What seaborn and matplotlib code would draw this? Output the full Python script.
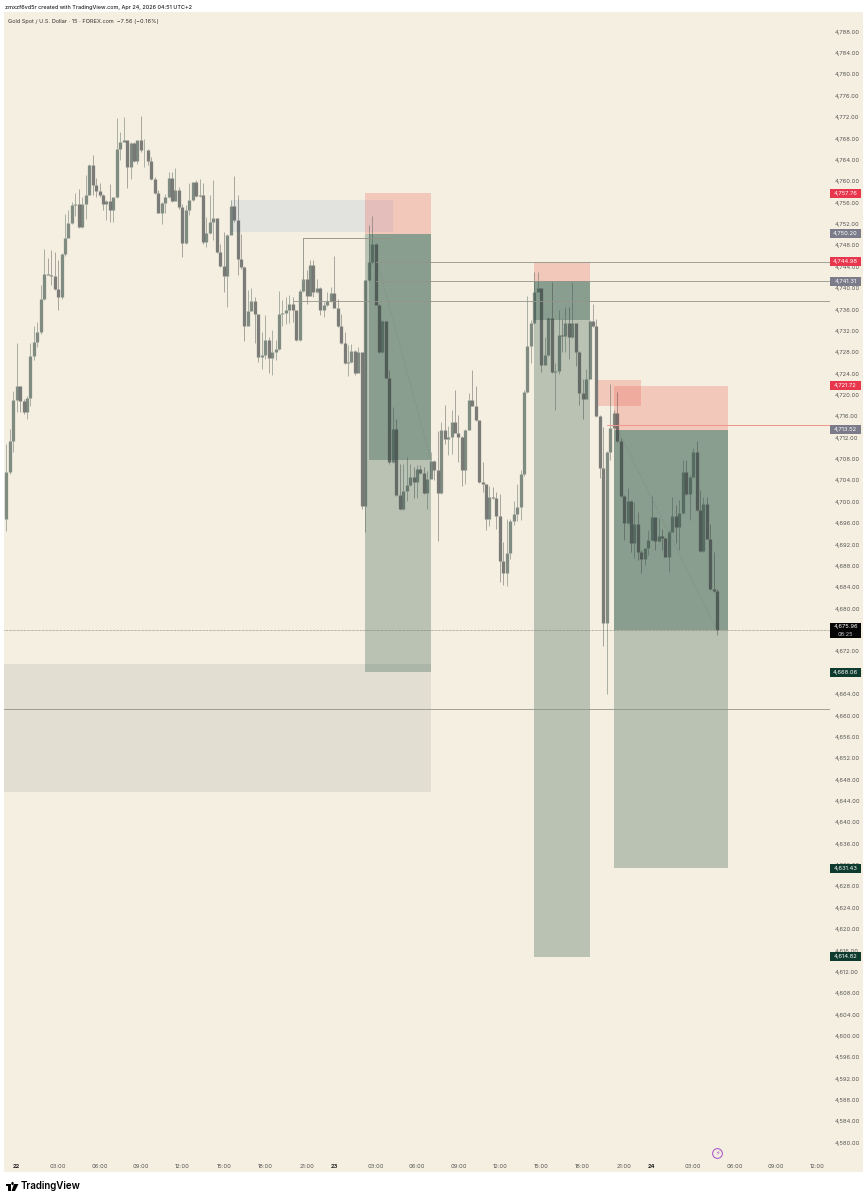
import numpy as np
import pandas as pd
import matplotlib
matplotlib.use("Agg")
import matplotlib.pyplot as plt
from matplotlib.patches import Rectangle, Circle, Polygon
import seaborn as sns

opens = [4696.8,4705.5,4711.3,4719.1,4721.7,4718.9,4716.9,4719.4,4727.3,4729.9,4731.8,4738.0,4742.7,4742.5,4742.2,4739.8,4738.3,4746.3,4749.3,4752.2,
4755.6,4755.7,4751.5,4755.7,4757.5,4763.1,4759.3,4758.2,4757.4,4755.8,4756.4,4754.6,4757.0,4766.1,4767.3,4767.7,4762.7,4767.1,4763.8,4767.7,
4765.8,4765.9,4763.8,4760.5,4757.9,4754.1,4756.0,4757.0,4760.6,4756.4,4758.3,4755.1,4748.5,4754.6,4756.5,4759.8,4757.3,4757.4,4748.6,4750.3,
4752.3,4753.1,4746.8,4744.1,4742.2,4750.0,4755.3,4752.7,4745.5,4744.0,4733.0,4735.8,4737.5,4735.1,4727.1,4727.5,4730.2,4727.0,4728.1,4728.6,
4735.2,4735.3,4736.0,4737.1,4736.0,4730.2,4739.4,4741.7,4738.5,4744.4,4739.3,4740.1,4736.0,4736.8,4737.5,4739.1,4736.3,4732.9,4729.7,4725.9,
4726.2,4728.2,4724.2,4728.0,4699.3,4741.5,4744.8,4748.2,4736.9,4728.0,4733.8,4723.2,4707.4,4713.7,4701.2,4698.7,4702.0,4703.2,4704.6,4703.7,
4706.1,4705.4,4701.6,4704.3,4707.7,4705.9,4701.6,4713.4,4711.8,4712.1,4715.0,4712.9,4712.2,4706.0,4713.5,4719.1,4718.0,4715.3,4703.7,4703.3,
4696.8,4700.9,4700.8,4697.4,4689.0,4686.6,4690.5,4696.5,4697.8,4699.1,4705.3,4720.6,4729.1,4733.4,4739.3,4740.0,4725.7,4727.4,4734.5,4724.3,
4724.4,4731.2,4731.1,4733.4,4730.8,4733.4,4728.0,4720.4,4719.3,4723.0,4733.9,4732.9,4716.0,4706.4,4677.4,4709.3,4713.8,4716.7,4711.4,4701.1,
4696.1,4700.1,4692.3,4695.9,4690.6,4689.3,4691.3,4692.8,4697.1,4692.7,4693.6,4693.3,4689.7,4694.4,4697.4,4695.3,4698.0,4705.5,4701.4,4704.7,
4709.4,4698.4,4690.8,4699.5,4693.1,4683.6,4683.3]
highs = [4710.8,4713.6,4720.8,4729.7,4721.7,4719.3,4719.9,4729.7,4733.0,4733.6,4740.5,4747.3,4745.7,4747.1,4746.8,4745.2,4746.5,4753.8,4754.6,4756.1,
4757.8,4758.6,4757.1,4761.1,4763.2,4764.9,4760.7,4759.6,4757.7,4756.5,4759.5,4757.1,4771.8,4769.3,4772.1,4767.7,4767.3,4767.3,4767.7,4772.3,
4768.0,4766.1,4764.6,4760.8,4758.3,4756.1,4757.7,4761.8,4761.8,4762.4,4759.0,4755.8,4755.5,4759.6,4759.9,4760.2,4760.5,4759.6,4753.3,4757.4,
4760.2,4753.2,4748.3,4750.5,4750.2,4756.5,4761.0,4757.4,4750.2,4744.1,4739.6,4740.0,4738.3,4735.2,4731.8,4734.9,4730.8,4732.1,4730.2,4739.5,
4737.7,4738.3,4738.7,4738.3,4736.0,4739.9,4742.4,4743.4,4745.2,4745.2,4741.8,4740.2,4737.4,4739.3,4740.3,4746.0,4738.0,4735.2,4731.8,4729.3,
4729.6,4728.4,4729.0,4728.0,4741.6,4751.8,4753.5,4748.4,4737.0,4734.0,4733.9,4724.6,4717.7,4715.5,4707.1,4707.1,4708.3,4707.1,4706.5,4706.8,
4706.8,4706.5,4705.8,4709.3,4707.9,4713.3,4714.9,4718.2,4714.1,4717.1,4721.0,4716.2,4712.4,4713.7,4720.4,4724.7,4721.6,4715.4,4707.4,4703.4,
4703.0,4702.8,4701.8,4701.5,4692.4,4696.8,4696.8,4700.2,4703.4,4705.9,4720.9,4738.5,4734.0,4743.1,4743.1,4740.1,4730.8,4734.6,4741.1,4725.9,
4735.9,4734.3,4736.5,4736.5,4741.1,4733.5,4728.2,4723.0,4724.9,4734.0,4737.0,4734.3,4716.2,4714.0,4709.6,4722.0,4717.1,4720.5,4711.9,4701.2,
4702.5,4700.3,4700.0,4698.1,4691.0,4691.4,4694.7,4701.1,4697.2,4696.9,4695.0,4693.4,4694.7,4700.9,4699.4,4700.3,4707.8,4707.8,4705.0,4710.0,
4711.3,4702.2,4700.9,4700.9,4695.9,4690.6,4683.6]
lows = [4694.6,4705.3,4709.3,4716.8,4716.8,4716.4,4715.5,4718.0,4726.5,4728.9,4731.5,4737.7,4742.4,4740.5,4739.6,4736.0,4737.9,4746.1,4749.3,4752.0,
4753.5,4751.3,4751.3,4753.0,4757.4,4757.4,4757.1,4757.1,4754.6,4752.7,4752.4,4752.3,4756.8,4764.0,4767.4,4758.8,4760.5,4763.6,4763.3,4765.5,
4762.7,4763.0,4760.2,4757.7,4754.0,4752.1,4754.0,4756.8,4756.1,4756.3,4754.9,4745.8,4748.3,4753.6,4756.3,4757.1,4757.1,4748.3,4747.7,4750.2,
4749.0,4746.5,4744.0,4739.3,4736.5,4749.9,4752.4,4742.4,4743.6,4730.1,4732.9,4735.7,4729.8,4726.1,4724.9,4726.8,4724.1,4723.8,4726.5,4728.5,
4732.9,4733.3,4733.5,4733.7,4730.1,4730.1,4739.3,4737.1,4738.5,4738.3,4739.0,4734.9,4734.6,4736.6,4737.4,4736.2,4732.7,4729.6,4725.8,4723.5,
4725.9,4723.8,4724.1,4698.7,4694.3,4741.4,4744.6,4736.8,4727.9,4727.9,4723.1,4707.1,4707.2,4701.0,4698.4,4698.4,4700.2,4703.0,4700.8,4700.8,
4705.2,4701.5,4698.7,4704.2,4704.0,4692.7,4701.4,4710.9,4708.7,4708.9,4712.8,4707.4,4703.0,4703.4,4713.4,4717.9,4715.1,4703.6,4701.8,4694.8,
4695.4,4700.6,4694.9,4684.9,4684.4,4684.3,4689.3,4695.6,4696.5,4696.6,4704.8,4720.4,4726.0,4733.3,4739.2,4724.3,4725.6,4727.3,4724.2,4717.1,
4724.0,4728.0,4728.0,4726.8,4730.6,4725.5,4718.2,4715.5,4719.2,4722.9,4732.8,4715.9,4704.4,4673.1,4664.1,4707.9,4713.7,4711.2,4700.9,4692.8,
4695.9,4690.6,4689.4,4689.1,4686.6,4688.1,4690.0,4692.7,4690.9,4692.5,4690.9,4689.6,4686.9,4694.3,4692.2,4690.9,4697.8,4701.2,4696.6,4704.4,
4698.3,4690.6,4690.6,4693.0,4683.5,4683.1,4675.0]
closes = [4705.5,4711.3,4719.1,4721.7,4718.9,4716.9,4719.4,4727.3,4729.9,4731.8,4738.0,4742.7,4742.5,4742.2,4739.8,4738.3,4746.3,4749.3,4752.2,4755.6,
4755.7,4751.5,4755.7,4757.5,4763.1,4759.3,4758.2,4757.4,4755.8,4756.3,4754.6,4757.0,4766.1,4767.3,4767.7,4762.7,4767.1,4763.8,4767.7,4765.8,
4765.9,4763.8,4760.5,4757.9,4754.1,4756.0,4757.0,4760.6,4756.4,4758.3,4755.1,4748.5,4754.6,4756.5,4759.8,4757.3,4757.4,4748.6,4750.3,4752.3,
4753.1,4746.8,4744.1,4742.2,4750.0,4755.3,4752.7,4745.5,4744.0,4733.0,4735.8,4737.5,4735.1,4727.1,4727.5,4730.2,4727.0,4728.1,4728.6,4735.2,
4735.3,4736.0,4737.1,4736.0,4730.2,4739.4,4741.7,4738.5,4744.4,4739.3,4740.1,4736.0,4736.8,4737.5,4739.1,4736.3,4732.9,4729.7,4725.9,4726.2,
4728.2,4724.2,4728.0,4699.3,4741.5,4744.8,4748.2,4736.9,4728.0,4733.8,4723.2,4707.4,4713.7,4701.2,4698.7,4702.0,4703.2,4704.6,4703.7,4706.1,
4705.4,4701.6,4704.3,4707.7,4705.9,4701.6,4713.4,4711.8,4712.1,4715.0,4712.9,4712.2,4706.0,4713.5,4719.1,4718.0,4715.3,4703.7,4703.3,4696.8,
4700.9,4700.8,4697.4,4689.0,4686.6,4690.5,4696.5,4697.8,4699.1,4705.3,4720.6,4729.1,4733.4,4739.3,4740.0,4725.7,4727.4,4734.5,4724.3,4724.4,
4731.2,4731.1,4733.4,4730.8,4733.4,4728.0,4720.4,4719.3,4723.0,4733.9,4732.9,4716.0,4706.4,4677.4,4709.3,4713.8,4716.7,4711.4,4701.1,4696.1,
4700.1,4692.3,4695.9,4690.6,4689.3,4691.3,4692.8,4697.1,4692.7,4693.6,4693.3,4689.7,4694.4,4697.4,4695.3,4698.0,4705.5,4701.4,4704.7,4709.4,
4698.4,4690.8,4699.5,4693.1,4683.6,4683.3,4675.96]

y_ticks = [v for v in range(4580, 4789, 4) if v not in (4668, 4676)]
x_tick_bars = [3,15,27,39,51,63,75,87,95,107,119,131,143,155,167,179,187,199,211,223,235]
x_tick_labels = ["22","03:00","06:00","09:00","12:00","15:00","18:00","21:00","23","03:00","06:00","09:00","12:00","15:00","18:00","21:00","24","03:00","06:00","09:00","12:00"]

# zones: bar_start, bar_end, price_top, price_bottom
grey_top = (65, 112, 4756.5, 4750.5)
band = (-0.7, 123, 4669.6, 4645.7)
stops = [(104, 123, 4757.76, 4750.20), (153, 169, 4744.98, 4741.31), (176, 209, 4721.72, 4713.52), (171.5, 184, 4722.8, 4717.9)]
targets = [(104, 123, 4750.20, 4668.06), (153, 169, 4741.31, 4614.82), (176, 209, 4713.52, 4631.43)]
runs = [(105, 123, 4750.20, 4707.8), (153, 169, 4741.31, 4734.0), (176, 209, 4713.52, 4675.96)]
levels = [(107, 4744.98), (107, 4741.31), (83, 4737.6)]
tags_red = [4757.76, 4744.98, 4721.72]
tags_grey = [4750.20, 4741.31, 4713.52]
tags_green = [4668.06, 4631.43, 4614.82]
last_price = 4675.96
low_level = 4661.3
red_level = 4714.4

BG = "#f5efe1"
W, H = 868, 1200
sns.set_theme(style="white", rc={"axes.facecolor": "none", "figure.facecolor": "white"})
plt.rcParams["font.family"] = ["Inter", "DejaVu Sans"]
fig = plt.figure(figsize=(W / 100, H / 100), dpi=100)
fig.add_artist(Rectangle((4 / W, 1 - 1172 / H), 859 / W, 1160 / H, transform=fig.transFigure, color=BG, lw=0, zorder=-5))
ax = fig.add_axes([4 / W, 1 - 1157 / H, 826 / W, 1145 / H])
ax.set_xlim(-0.675, 238.67)
ax.set_ylim(4760 - (1157 - 181.3) / 5.342, 4760 + (181.3 - 12) / 5.342)
sns.despine(ax=ax, left=True, bottom=True, right=True, top=True)


def zone(z, color, alpha, zorder=1):
    ax.fill_between([z[0], z[1]], z[2], z[3], color=color, alpha=alpha, lw=0, zorder=zorder)


zone(band, (120 / 255, 130 / 255, 125 / 255), 0.15)
zone(grey_top, (118 / 255, 153 / 255, 217 / 255), 0.15)
for z in targets:
    zone(z, (48 / 255, 92 / 255, 74 / 255), 0.30)
for z in runs:
    zone(z, (48 / 255, 92 / 255, 74 / 255), 0.35)
for z in stops:
    zone(z, (235 / 255, 90 / 255, 80 / 255), 0.26)

bars = np.arange(len(opens))
df = pd.DataFrame({"bar": bars, "open": opens, "high": highs, "low": lows, "close": closes})
df["dir"] = np.where(df["close"] >= df["open"], "up", "down")
df["top"] = df[["open", "close"]].max(axis=1)
df["bot"] = df[["open", "close"]].min(axis=1)
upper = df.melt(id_vars=["bar", "dir"], value_vars=["high", "top"], value_name="price").assign(part=lambda d: d["bar"] * 2)
lower = df.melt(id_vars=["bar", "dir"], value_vars=["bot", "low"], value_name="price").assign(part=lambda d: d["bar"] * 2 + 1)
wick = pd.concat([upper, lower], ignore_index=True)
body = df.melt(id_vars=["bar", "dir"], value_vars=["open", "close"], value_name="price")
up_c, down_c = (56 / 255, 78 / 255, 72 / 255), (48 / 255, 52 / 255, 56 / 255)
pal = {"up": up_c, "down": down_c}
sns.lineplot(data=wick, x="bar", y="price", units="part", hue="dir", palette=pal, estimator=None, sort=False,
             legend=False, lw=0.7, alpha=0.4, ax=ax, solid_capstyle="butt", zorder=3)
sns.lineplot(data=body, x="bar", y="price", units="bar", hue="dir", palette=pal, estimator=None, sort=False,
             legend=False, lw=2.35, alpha=0.62, ax=ax, solid_capstyle="butt", zorder=4)

LC = "#94948a"
for start, lev in levels:
    ax.plot([start, ax.get_xlim()[1]], [lev, lev], color=LC, lw=0.6, zorder=5)
ax.plot([86, 112], [4749.33, 4749.33], color=LC, lw=0.65, zorder=5)
ax.plot([86, 86], [4749.33, 4741.3], color=LC, lw=0.65, zorder=5)
ax.axhline(last_price, color="#77776c", lw=0.5, ls=(0, (1, 1)), zorder=5)
ax.axhline(low_level, color=LC, lw=0.6, zorder=5)
ax.plot([174, ax.get_xlim()[1]], [red_level, red_level], color="#f0958c", lw=0.7, zorder=5)
ax.plot([107.5, 123], [4744.98, 4707.8], color="#6f7f74", lw=0.5, alpha=0.7, ls=(0, (1.5, 2.5)), zorder=5)
ax.plot([177.2, 206], [4713.5, last_price], color="#6f7f74", lw=0.5, alpha=0.7, ls=(0, (1.5, 2.5)), zorder=5)

# axes
ax.grid(False)
ax.yaxis.tick_right()
ax.set_yticks(y_ticks)
ax.set_yticklabels([f"{v:,.2f}" for v in y_ticks], fontsize=4.2, color="#555555")
ax.tick_params(axis="y", length=0, pad=3.6)
ax.set_xticks(x_tick_bars)
ax.set_xticklabels(x_tick_labels, fontsize=4.2, color="#555555")
ax.tick_params(axis="x", length=0, pad=5)
for lab in ax.get_xticklabels():
    if ":" not in lab.get_text():
        lab.set_fontweight("bold")
        lab.set_color("#222222")
ax.set_xlabel("")
ax.set_ylabel("")

# price tags
trans = ax.get_yaxis_transform()
tag_w = 31 / 826


def tag(price, color, text2=None):
    h = (15 if text2 else 9) / 5.342
    ax.add_patch(Rectangle((1.0, price - h / 2), tag_w, h, transform=trans, color=color, lw=0, clip_on=False, zorder=8))
    if text2:
        ax.text(1 + tag_w / 2, price + 0.62, f"{price:,.2f}", transform=trans, color="white", fontsize=4.2, ha="center", va="center", zorder=9, clip_on=False)
        ax.text(1 + tag_w / 2, price - 0.72, text2, transform=trans, color="#cccccc", fontsize=4.0, ha="center", va="center", zorder=9, clip_on=False)
    else:
        ax.text(1 + tag_w / 2, price, f"{price:,.2f}", transform=trans, color="#ffffff", fontsize=4.2, ha="center", va="center", zorder=9, clip_on=False)


for p in tags_red:
    tag(p, "#e8374d")
for p in tags_grey:
    tag(p, "#7b7b8a")
for p in tags_green:
    tag(p, "#0e3b2e")
tag(last_price, "#050505", "08:25")

# event icon
ax.plot([206.0], [4578.1], marker="o", ms=7.0, mfc="none", mec="#a44bc8", mew=0.7, clip_on=False, zorder=6)
ax.text(206.0, 4578.0, "\u26a1", fontsize=4.5, color="#a44bc8", ha="center", va="center", family="DejaVu Sans", clip_on=False, zorder=6)

# header
fig.text(5 / W, 1 - 7.5 / H, "zmxzf6vd5r created with TradingView.com, Apr 24, 2026 04:51 UTC+2", fontsize=3.95, color="#222222", va="center", ha="left", fontweight="medium")
fig.text(8 / W, 1 - 21 / H, "Gold Spot / U.S. Dollar \u00b7 15 \u00b7 FOREX.com  \u22127.56 (\u22120.16%)", fontsize=4.05, color="#333333", va="center", ha="left")

# footer logo
def P(x, y):
    return (x / W, 1 - y / H)


for art in [
    Rectangle(P(6, 1186), 4.5 / W, 2 / H, transform=fig.transFigure, color="black", lw=0),
    Rectangle(P(8, 1191), 2.5 / W, 7 / H, transform=fig.transFigure, color="black", lw=0),
    Circle(P(12.5, 1183.5), 1.2 / W, transform=fig.transFigure, color="black", lw=0),
    Polygon([P(14, 1184), P(18.5, 1184), P(15, 1191), P(11.5, 1191)], closed=True, transform=fig.transFigure, color="black", lw=0),
]:
    fig.add_artist(art)
fig.text(21 / W, 1 - 1186 / H, "TradingView", fontsize=7.05, color="black", va="center", ha="left", fontweight="semibold")

fig.savefig("out.png", dpi=100)
